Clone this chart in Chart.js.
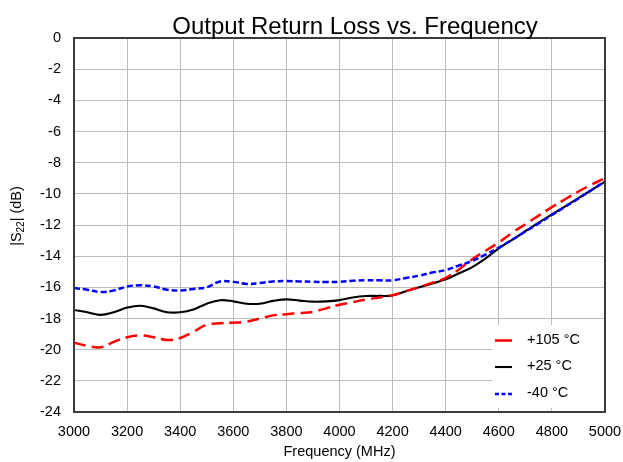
<!DOCTYPE html>
<html><head><meta charset="utf-8">
<script src="https://cdn.jsdelivr.net/npm/chart.js@4.4.1/dist/chart.umd.min.js"></script>
<style>html,body{margin:0;padding:0;background:#fff}#wrap{width:623px;height:462px}</style>
</head><body><div id="wrap"><canvas id="c" width="623" height="462"></canvas></div>
<script>
const chartTitle = 'Output Return Loss vs. Frequency';
const xAxisTitle = 'Frequency (MHz)';
const seriesLabels = ['+105 °C', '+25 °C', '-40 °C'];
const frequencies = [3000,3050,3100,3150,3200,3250,3300,3350,3400,3450,3500,3550,3600,3650,3700,3750,3800,3850,3900,3950,4000,4050,4100,4150,4200,4250,4300,4350,4400,4450,4500,4550,4600,4650,4700,4750,4800,4850,4900,4950,5000];
const s22Hot = [-19.55,-19.75,-19.85,-19.5,-19.2,-19.08,-19.2,-19.38,-19.25,-18.85,-18.4,-18.3,-18.27,-18.2,-18.0,-17.8,-17.72,-17.65,-17.57,-17.35,-17.12,-16.95,-16.78,-16.65,-16.5,-16.25,-15.98,-15.7,-15.4,-14.85,-14.2,-13.65,-13.12,-12.5,-11.95,-11.4,-10.85,-10.35,-9.85,-9.4,-9.0];
const s22Room = [-17.45,-17.6,-17.77,-17.6,-17.3,-17.18,-17.35,-17.6,-17.6,-17.42,-17.05,-16.83,-16.9,-17.05,-17.05,-16.87,-16.77,-16.85,-16.92,-16.9,-16.82,-16.65,-16.56,-16.55,-16.52,-16.25,-16.0,-15.75,-15.49,-15.1,-14.7,-14.15,-13.5,-12.95,-12.4,-11.85,-11.32,-10.8,-10.27,-9.75,-9.22];
const s22Cold = [-16.05,-16.15,-16.3,-16.2,-15.95,-15.87,-15.95,-16.15,-16.2,-16.1,-16.0,-15.62,-15.65,-15.78,-15.72,-15.62,-15.6,-15.62,-15.64,-15.66,-15.65,-15.58,-15.55,-15.55,-15.55,-15.4,-15.25,-15.05,-14.89,-14.6,-14.3,-13.9,-13.45,-12.95,-12.42,-11.9,-11.36,-10.83,-10.3,-9.75,-9.2];
const xMin = 3000, xMax = 5000, xStep = 200;
const yMin = -24, yMax = 0, yStep = 2;

const FONT = '"Liberation Sans", Arial, sans-serif';
const pts = arr => arr.map((v, i) => ({x: frequencies[i], y: v}));

const styles = [
  {color: '#ff0000', dash: [12, 6], legendDash: [], width: 2.5, order: 1},
  {color: '#000000', dash: [], legendDash: [], width: 2.1, order: 2},
  {color: '#0000ff', dash: [6, 3], legendDash: [4, 2.5], width: 2.5, order: 0}
];
const seriesData = [s22Hot, s22Room, s22Cold];

const decorPlugin = {
  id: 'decor',
  afterDatasetsDraw(chart) {
    const ctx = chart.ctx, a = chart.chartArea;
    ctx.save();
    // legend box
    const lx = 492, ly = 325, lw = 112, lh = 83;
    ctx.fillStyle = '#ffffff';
    ctx.fillRect(lx, ly, lw, lh);
    const rows = [340.5, 367, 394];
    seriesLabels.forEach((lab, i) => {
      const s = styles[i];
      ctx.strokeStyle = s.color;
      ctx.lineWidth = s.width;
      ctx.setLineDash(s.legendDash);
      ctx.beginPath();
      ctx.moveTo(495, rows[i]);
      ctx.lineTo(512, rows[i]);
      ctx.stroke();
      ctx.setLineDash([]);
      ctx.fillStyle = '#000';
      ctx.font = '14.5px ' + FONT;
      ctx.textAlign = 'left';
      ctx.textBaseline = 'middle';
      ctx.fillText(lab, 527, rows[i] - 1);
    });
    // frame
    ctx.strokeStyle = '#3c3c3c';
    ctx.lineWidth = 2;
    ctx.strokeRect(a.left, a.top, a.right - a.left, a.bottom - a.top);
    // title
    ctx.fillStyle = '#000';
    ctx.font = '24px ' + FONT;
    ctx.textAlign = 'center';
    ctx.textBaseline = 'alphabetic';
    ctx.fillText(chartTitle, 355, 33.5);
    // y axis title with subscript
    ctx.translate(21, 216);
    ctx.rotate(-Math.PI / 2);
    const f1 = '14.5px ' + FONT, f2 = '10px ' + FONT;
    const p1 = '|S', p2 = '22', p3 = '| (dB)';
    ctx.font = f1; const w1 = ctx.measureText(p1).width, w3 = ctx.measureText(p3).width;
    ctx.font = f2; const w2 = ctx.measureText(p2).width;
    let x = -(w1 + w2 + w3) / 2;
    ctx.textAlign = 'left';
    ctx.font = f1; ctx.fillText(p1, x, 0); x += w1;
    ctx.font = f2; ctx.fillText(p2, x, 3); x += w2;
    ctx.font = f1; ctx.fillText(p3, x, 0);
    ctx.restore();
  }
};

new Chart(document.getElementById('c'), {
  type: 'line',
  data: {
    datasets: seriesData.map((d, i) => ({
      label: seriesLabels[i],
      data: pts(d),
      borderColor: styles[i].color,
      backgroundColor: styles[i].color,
      borderWidth: styles[i].width,
      borderDash: styles[i].dash,
      pointRadius: 0,
      tension: 0.4,
      fill: false,
      order: styles[i].order
    }))
  },
  options: {
    responsive: false,
    devicePixelRatio: 1,
    animation: false,
    layout: {padding: {left: 0, right: 18, top: 38, bottom: 0}},
    plugins: {legend: {display: false}, title: {display: false}, tooltip: {enabled: false}},
    scales: {
      x: {
        type: 'linear', min: xMin, max: xMax,
        ticks: {stepSize: xStep, color: '#000', font: {family: FONT, size: 14.5}, padding: 11, maxRotation: 0, callback: v => String(v)},
        grid: {color: '#bdbdbd', lineWidth: 1, drawTicks: false},
        border: {display: false},
        title: {display: true, text: xAxisTitle, color: '#000', font: {family: FONT, size: 14.5}, padding: {top: 0, bottom: 1}},
        afterFit(s) { s.height = 50; s.paddingLeft = 0; s.paddingRight = 0; }
      },
      y: {
        type: 'linear', min: yMin, max: yMax,
        ticks: {stepSize: yStep, color: '#000', font: {family: FONT, size: 14.5}, padding: 13, callback: v => String(v)},
        grid: {color: '#bdbdbd', lineWidth: 1, drawTicks: false},
        border: {display: false},
        afterFit(s) { s.width = 74; s.paddingTop = 0; s.paddingBottom = 0; }
      }
    }
  },
  plugins: [decorPlugin]
});
</script></body></html>
